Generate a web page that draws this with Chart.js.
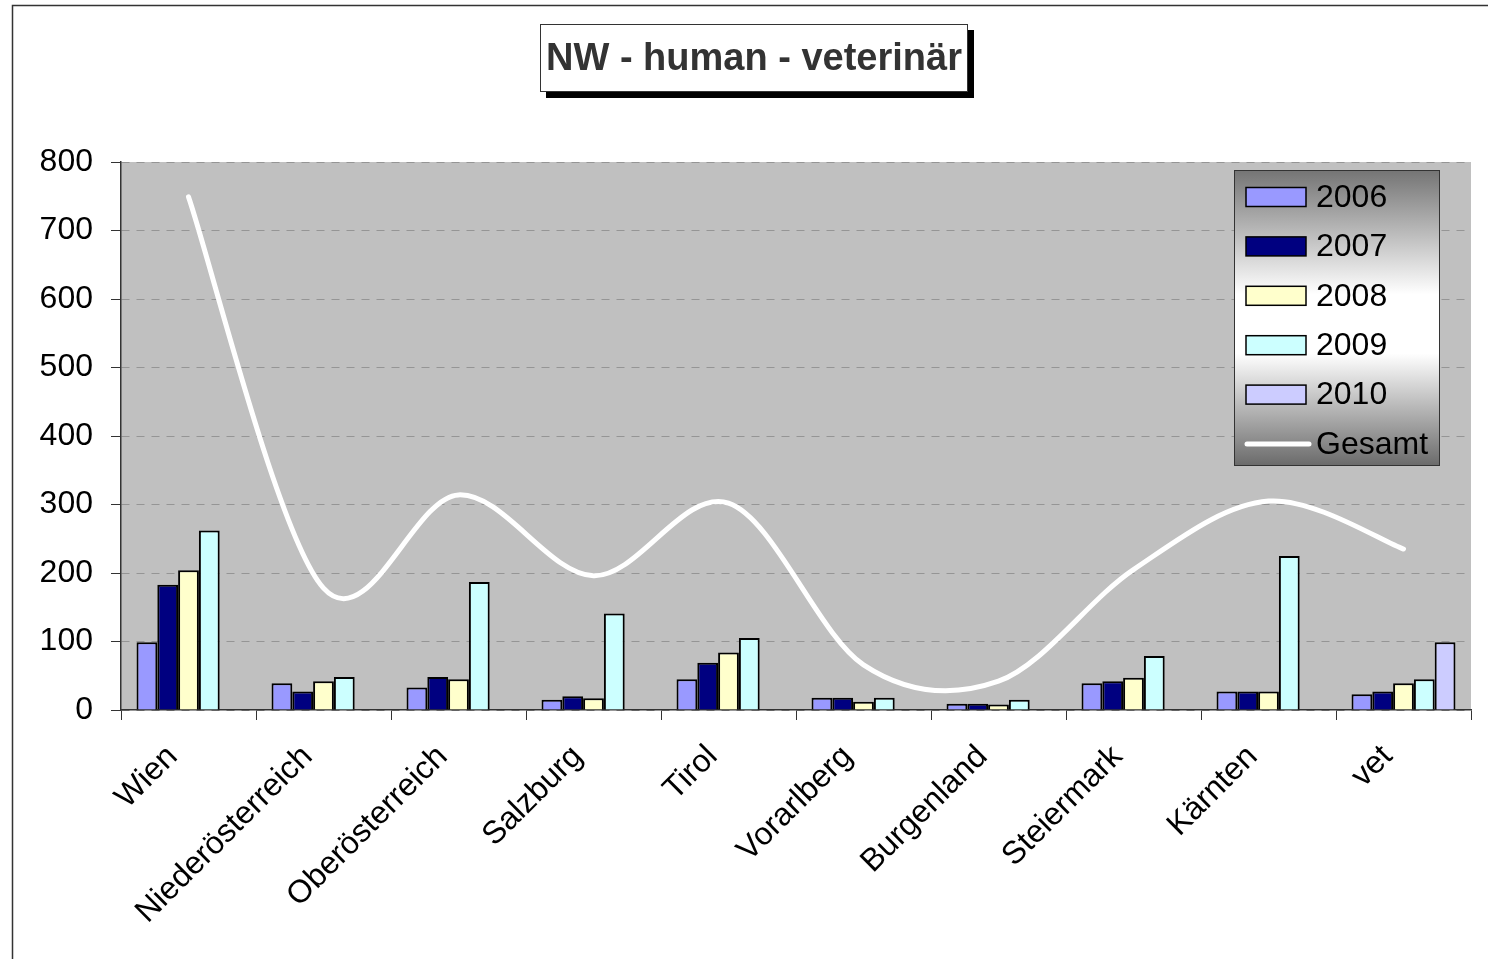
<!DOCTYPE html>
<html>
<head>
<meta charset="utf-8">
<script src="https://cdn.jsdelivr.net/npm/chart.js@4.4.1/dist/chart.umd.min.js"></script>
<style>
  html, body { margin: 0; padding: 0; background: #fff; }
  #wrap { width: 1488px; height: 959px; position: relative; }
</style>
</head>
<body>
<div id="wrap"><canvas id="chart" width="1488" height="959"></canvas></div>
<script>
// data
var regions = ['Wien', 'Niederösterreich', 'Oberösterreich', 'Salzburg', 'Tirol',
               'Vorarlberg', 'Burgenland', 'Steiermark', 'Kärnten', 'vet'];
var y2006 = [99, 39, 33, 15, 45, 18, 9, 39, 27, 23];
var y2007 = [183, 27, 48, 20, 69, 18, 9, 42, 27, 27];
var y2008 = [204, 42, 45, 17, 84, 12, 8, 47, 27, 39];
var y2009 = [262, 48, 187, 141, 105, 18, 15, 79, 225, 45];
var y2010 = [null, null, null, null, null, null, null, null, null, 99];
var gesamt = [749, 178, 314, 196, 302, 66, 42, 205, 305, 235];
var yTicks = [0, 100, 200, 300, 400, 500, 600, 700, 800];
var chartTitle = 'NW - human - veterinär';

var FONT = '"Liberation Sans", Arial, sans-serif';

function barSet(label, values, colour) {
    return {
        type: 'bar',
        label: label,
        data: values,
        backgroundColor: colour,
        borderColor: '#000',
        borderWidth: 2,
        order: 1
    };
}

// frame + title box drawn behind the chart
var decorPlugin = {
    id: 'decor',
    beforeDraw: function(chart) {
        var ctx = chart.ctx;
        ctx.save();
        ctx.fillStyle = '#fff';
        ctx.fillRect(0, 0, chart.width, chart.height);
        ctx.strokeStyle = '#333';
        ctx.lineWidth = 1.5;
        ctx.strokeRect(12.5, 5.5, chart.width + 50, chart.height + 50);

        // title box with shadow
        ctx.fillStyle = '#000';
        ctx.fillRect(546, 30, 428, 68);
        ctx.fillStyle = '#fff';
        ctx.fillRect(540, 24, 428, 68);
        ctx.strokeStyle = '#333';
        ctx.lineWidth = 1;
        ctx.strokeRect(540.5, 24.5, 427, 67);
        ctx.fillStyle = '#333';
        ctx.font = 'bold 38px ' + FONT;
        ctx.textAlign = 'center';
        ctx.textBaseline = 'middle';
        ctx.fillText(chartTitle, 754, 60);
        ctx.restore();
    },
    afterDraw: function(chart) {
        // legend box inside plot area
        var ctx = chart.ctx;
        var x = 1234, y = 170, w = 206, h = 296;
        ctx.save();
        var g = ctx.createLinearGradient(0, y, 0, y + h);
        g.addColorStop(0, '#747474');
        g.addColorStop(0.42, '#ffffff');
        g.addColorStop(0.62, '#ffffff');
        g.addColorStop(1, '#6a6a6a');
        ctx.fillStyle = g;
        ctx.fillRect(x, y, w, h);
        ctx.strokeStyle = '#333';
        ctx.lineWidth = 1;
        ctx.strokeRect(x + 0.5, y + 0.5, w - 1, h - 1);

        var sets = chart.data.datasets;
        var order = [1, 2, 3, 4, 5, 0];
        ctx.font = '32px ' + FONT;
        ctx.textBaseline = 'middle';
        ctx.textAlign = 'left';
        order.forEach(function(idx, row) {
            var ds = sets[idx];
            var cy = 197 + row * 49.4;
            if (ds.type === 'line') {
                ctx.strokeStyle = '#fff';
                ctx.lineWidth = 5;
                ctx.lineCap = 'round';
                ctx.beginPath();
                ctx.moveTo(1247, cy);
                ctx.lineTo(1309, cy);
                ctx.stroke();
            } else {
                ctx.fillStyle = ds.backgroundColor;
                ctx.fillRect(1246, cy - 9.5, 60, 19);
                ctx.strokeStyle = '#000';
                ctx.lineWidth = 1.5;
                ctx.strokeRect(1246, cy - 9.5, 60, 19);
            }
            ctx.fillStyle = '#000';
            ctx.fillText(ds.label, 1316, cy + 1);
        });
        ctx.restore();
    }
};

// grey plot area
var plotBg = {
    id: 'plotBg',
    beforeDraw: function(chart) {
        var a = chart.chartArea;
        chart.ctx.save();
        chart.ctx.fillStyle = '#c0c0c0';
        chart.ctx.fillRect(a.left, a.top, a.right - a.left, a.bottom - a.top);
        chart.ctx.restore();
    }
};

// Excel style smoothing (uniform Catmull-Rom) for the Gesamt line
var excelSmooth = {
    id: 'excelSmooth',
    beforeDatasetDraw: function(chart, args) {
        var meta = args.meta;
        if (meta.type !== 'line') return;
        meta.dataset.updateControlPoints(chart.chartArea);
        var pts = meta.data;
        for (var i = 0; i < pts.length; i++) {
            var p = pts[i];
            var prev = pts[i - 1] || p;
            var next = pts[i + 1] || p;
            var dx = (next.x - prev.x) / 6;
            var dy = (next.y - prev.y) / 6;
            p.cp1x = p.x - dx;
            p.cp1y = p.y - dy;
            p.cp2x = p.x + dx;
            p.cp2y = p.y + dy;
        }
        meta.dataset._path = undefined;
    }
};

var ctx = document.getElementById('chart');
var myChart = new Chart(ctx, {
    data: {
        labels: regions,
        datasets: [
            {
                type: 'line',
                label: 'Gesamt',
                data: gesamt,
                borderColor: '#fff',
                backgroundColor: '#fff',
                borderWidth: 5,
                pointRadius: 0,
                tension: 0.4,
                borderCapStyle: 'round',
                borderJoinStyle: 'round',
                fill: false,
                order: 0
            },
            barSet('2006', y2006, '#9999ff'),
            barSet('2007', y2007, '#000080'),
            barSet('2008', y2008, '#ffffcc'),
            barSet('2009', y2009, '#ccffff'),
            barSet('2010', y2010, '#ccccff')
        ]
    },
    options: {
        responsive: false,
        animation: false,
        layout: { padding: { top: 162, right: 17, left: 0, bottom: 0 } },
        datasets: {
            bar: { categoryPercentage: 0.77, barPercentage: 1 }
        },
        plugins: {
            legend: { display: false },
            title: { display: false },
            tooltip: { enabled: false }
        },
        scales: {
            x: {
                offset: true,
                grid: {
                    offset: true,
                    drawOnChartArea: false,
                    drawTicks: true,
                    tickLength: 10,
                    tickColor: '#333'
                },
                border: { color: '#333', width: 1.5 },
                ticks: {
                    minRotation: 45,
                    maxRotation: 45,
                    autoSkip: false,
                    color: '#000',
                    padding: 18,
                    labelOffset: -16,
                    font: { family: FONT, size: 32 }
                },
                afterFit: function(scale) { scale.height = 959 - 710; }
            },
            y: {
                min: 0,
                max: 800,
                afterBuildTicks: function(scale) {
                    scale.ticks = yTicks.map(function(v) { return { value: v }; });
                },
                grid: {
                    color: '#959595',
                    tickColor: '#333',
                    tickLength: 10,
                    lineWidth: 1
                },
                border: { color: '#333', width: 1.5, dash: [8, 7] },
                ticks: {
                    color: '#000',
                    padding: 18,
                    font: { family: FONT, size: 32 }
                },
                afterFit: function(scale) { scale.width = 121; }
            }
        }
    },
    plugins: [decorPlugin, plotBg, excelSmooth]
});
</script>
</body>
</html>
